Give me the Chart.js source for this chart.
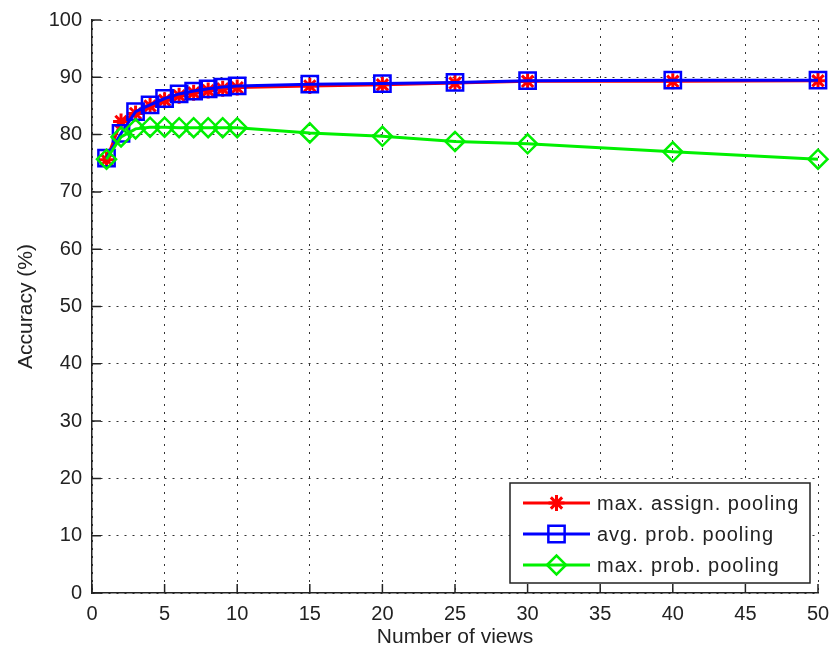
<!DOCTYPE html>
<html>
<head>
<meta charset="utf-8">
<script src="https://cdn.jsdelivr.net/npm/chart.js@4/dist/chart.umd.min.js"></script>
<style>
  html, body { margin: 0; padding: 0; background: #fff; }
  #wrap { width: 833px; height: 657px; }
</style>
</head>
<body>
<div id="wrap"><canvas id="c" width="833" height="657"></canvas></div>
<script>
// Number of views pooled per object
const views = [1, 2, 3, 4, 5, 6, 7, 8, 9, 10, 15, 20, 25, 30, 40, 50];

// Accuracy (%) for each pooling strategy
const maxAssignPooling = [75.6, 82.3, 83.7, 85.0, 86.0, 86.8, 87.3, 87.7, 88.0, 88.2, 88.5, 88.7, 89.0, 89.3, 89.3, 89.4];
const avgProbPooling   = [75.9, 80.2, 84.0, 85.2, 86.3, 87.1, 87.6, 88.0, 88.3, 88.5, 88.8, 88.9, 89.1, 89.4, 89.5, 89.5];
const maxProbPooling   = [75.7, 79.6, 81.0, 81.3, 81.3, 81.2, 81.2, 81.2, 81.2, 81.2, 80.3, 79.7, 78.8, 78.4, 77.0, 75.7];

const seriesNames = ['max. assign. pooling', 'avg. prob. pooling', 'max. prob. pooling'];

const FONT = "'Liberation Sans', Arial, Helvetica, sans-serif";
const TEXT = '#222';

const toPoints = ys => views.map((v, i) => ({ x: v, y: ys[i] }));

// MATLAB-style ticks pointing into the plot area
const inwardTicks = {
  id: 'inwardTicks',
  beforeDatasetsDraw(chart) {
    const { ctx, chartArea: a, scales: { x, y } } = chart;
    const len = 9;
    ctx.save();
    ctx.strokeStyle = '#222';
    ctx.lineWidth = 1.5;
    ctx.beginPath();
    x.ticks.forEach(t => {
      const px = x.getPixelForValue(t.value);
      ctx.moveTo(px, a.bottom);
      ctx.lineTo(px, a.bottom - len);
    });
    y.ticks.forEach(t => {
      const py = y.getPixelForValue(t.value);
      ctx.moveTo(a.left, py);
      ctx.lineTo(a.left + len, py);
    });
    ctx.stroke();
    ctx.restore();
  }
};

// Boxed legend in the lower-right corner of the axes
const boxedLegend = {
  id: 'boxedLegend',
  afterDraw(chart) {
    const { ctx, chartArea: a } = chart;
    const w = 300, h = 100;
    const bx = a.right - 8 - w, by = a.bottom - 10 - h;
    ctx.save();
    ctx.fillStyle = '#fff';
    ctx.fillRect(bx, by, w, h);
    ctx.strokeStyle = '#222';
    ctx.lineWidth = 1.5;
    ctx.strokeRect(bx, by, w, h);
    ctx.font = '20px ' + FONT;
    ctx.letterSpacing = '1px';
    ctx.textBaseline = 'middle';
    ctx.fillStyle = TEXT;
    chart.data.datasets.forEach((ds, i) => {
      const cy = by + 20 + i * 31;
      const x0 = bx + 13, x1 = bx + 80, xm = (x0 + x1) / 2;
      ctx.strokeStyle = ds.borderColor;
      ctx.lineWidth = 3;
      ctx.beginPath();
      ctx.moveTo(x0, cy);
      ctx.lineTo(x1, cy);
      ctx.stroke();
      ctx.fillStyle = 'rgba(0,0,0,0)';
      ctx.lineWidth = ds.pointBorderWidth;
      Chart.helpers.drawPoint(ctx, {
        pointStyle: ds.pointStyle,
        radius: ds.pointRadius,
        rotation: 0,
        borderWidth: ds.pointBorderWidth
      }, xm, cy);
      ctx.fillStyle = TEXT;
      ctx.fillText(ds.label, bx + 87, cy + 1);
    });
    ctx.restore();
  }
};

const common = {
  fill: false,
  tension: 0,
  borderWidth: 3,
  pointBackgroundColor: 'rgba(0,0,0,0)',
  pointBorderWidth: 2.5,
  clip: false
};

new Chart(document.getElementById('c'), {
  type: 'line',
  data: {
    datasets: [
      Object.assign({}, common, {
        label: seriesNames[0],
        data: toPoints(maxAssignPooling),
        borderColor: '#ff0000',
        pointBorderColor: '#ff0000',
        pointStyle: 'star',
        pointRadius: 8,
        pointBorderWidth: 3,
        order: 3
      }),
      Object.assign({}, common, {
        label: seriesNames[1],
        data: toPoints(avgProbPooling),
        borderColor: '#0000ff',
        pointBorderColor: '#0000ff',
        pointStyle: 'rect',
        pointRadius: 11.5,
        order: 2
      }),
      Object.assign({}, common, {
        label: seriesNames[2],
        data: toPoints(maxProbPooling),
        borderColor: '#00f000',
        pointBorderColor: '#00f000',
        pointStyle: 'rectRot',
        pointRadius: 9.5,
        order: 1
      })
    ]
  },
  options: {
    responsive: false,
    animation: false,
    devicePixelRatio: 1,
    layout: { padding: { left: 0, top: 20, right: 15, bottom: 0 } },
    plugins: {
      legend: { display: false },
      tooltip: { enabled: false }
    },
    scales: {
      x: {
        type: 'linear',
        min: 0, max: 50,
        afterFit(scale) { scale.height = 64; scale.paddingRight = 0; scale.paddingLeft = 0; },
        ticks: { stepSize: 5, padding: 9, color: TEXT, font: { family: FONT, size: 20 } },
        grid: { color: 'rgba(0,0,0,0.8)', lineWidth: 1, drawTicks: false },
        border: { display: true, color: '#222', width: 1.5, dash: [2, 6] },
        title: { display: true, text: 'Number of views', color: TEXT, font: { family: FONT, size: 21 }, padding: { top: 0, bottom: 7 } }
      },
      y: {
        type: 'linear',
        min: 0, max: 100,
        afterFit(scale) { scale.width = 92; scale.paddingTop = 0; scale.paddingBottom = 0; },
        ticks: { stepSize: 10, padding: 10, color: TEXT, font: { family: FONT, size: 20 } },
        grid: { color: 'rgba(0,0,0,0.8)', lineWidth: 1, drawTicks: false },
        border: { display: true, color: '#222', width: 1.5, dash: [2, 6] },
        title: { display: true, text: 'Accuracy (%)', color: TEXT, font: { family: FONT, size: 21 }, padding: { top: 14, bottom: 0 } }
      }
    }
  },
  plugins: [inwardTicks, boxedLegend]
});
</script>
</body>
</html>
